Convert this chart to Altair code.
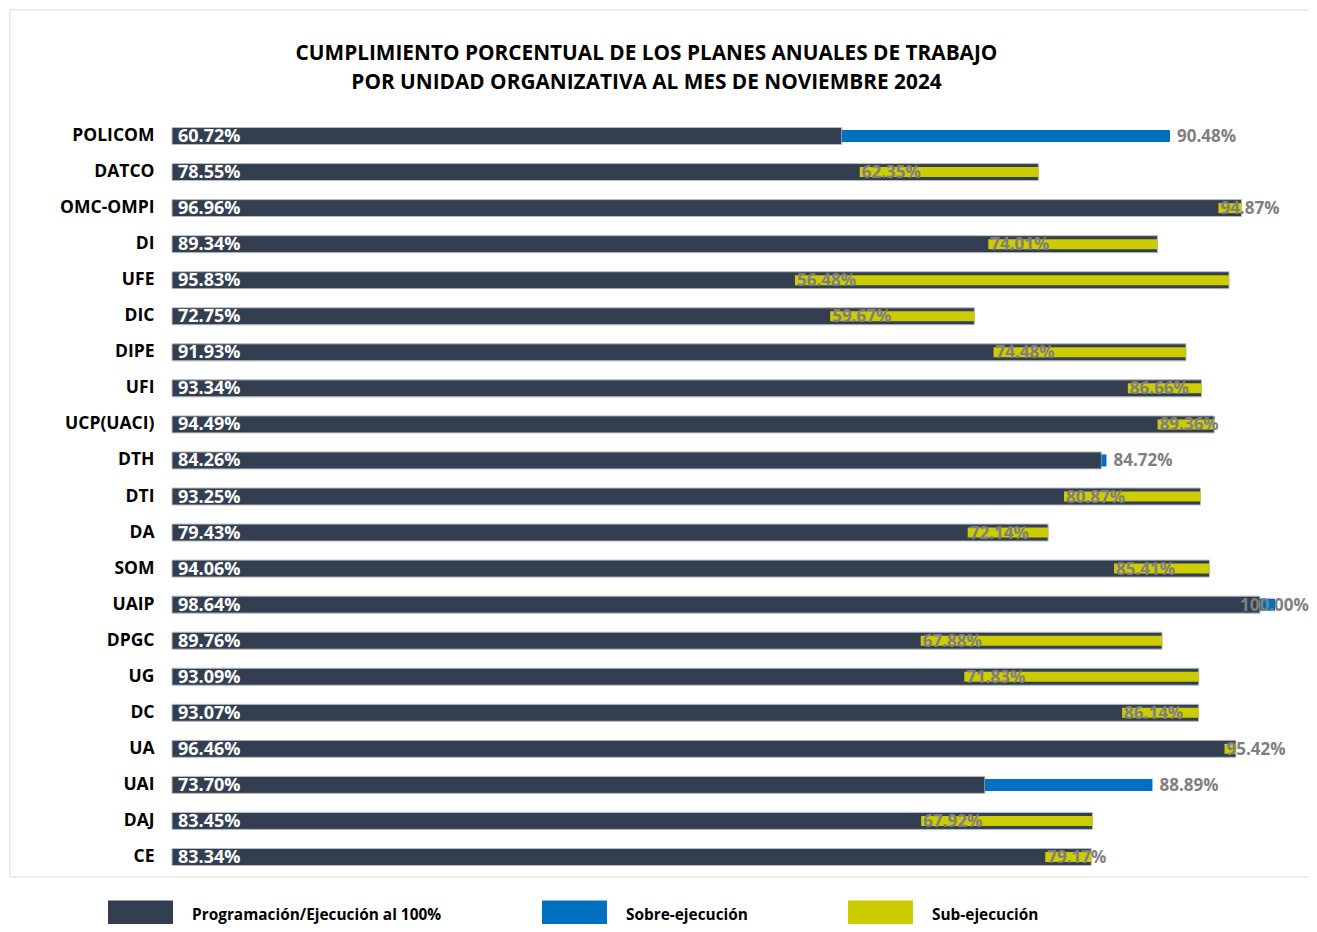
import altair as alt
import pandas as pd

unidades = ["POLICOM", "DATCO", "OMC-OMPI", "DI", "UFE", "DIC", "DIPE", "UFI",
            "UCP(UACI)", "DTH", "DTI", "DA", "SOM", "UAIP", "DPGC", "UG", "DC",
            "UA", "UAI", "DAJ", "CE"]
programado = [60.72, 78.55, 96.96, 89.34, 95.83, 72.75, 91.93, 93.34,
              94.49, 84.26, 93.25, 79.43, 94.06, 98.64, 89.76, 93.09, 93.07,
              96.46, 73.70, 83.45, 83.34]
ejecutado = [90.48, 62.35, 94.87, 74.01, 56.48, 59.67, 74.48, 86.66,
             89.36, 84.72, 80.87, 72.14, 85.41, 100.00, 67.88, 71.83, 86.14,
             95.42, 88.89, 67.92, 79.17]
SOBRE = "Sobre-ejecución"
SUB = "Sub-ejecución"
PROG = "Programación/Ejecución al 100%"
tipo = [SOBRE if e > p else SUB for p, e in zip(programado, ejecutado)]

series = [PROG, SOBRE, SUB]
colores = ["#333F50", "#0070C0", "#CCCC00"]

df = pd.DataFrame({"unidad": unidades, "prog": programado,
                   "ejec": ejecutado, "tipo": tipo})

FONT = "Open Sans"
xs = alt.Scale(domain=[0, 100], nice=False, zero=True)
cs = alt.Scale(domain=series, range=colores)

legend = alt.Legend(
    title=None, orient="none", legendX=-64, legendY=764, direction="horizontal",
    symbolType="M-1,-0.43H1V0.43H-1Z", symbolSize=4225, symbolStrokeWidth=0,
    symbolOpacity=1, labelFont=FONT, labelFontWeight="bold", labelFontSize=15.4,
    labelColor="#000000", labelOffset=19, columnPadding=100, gridAlign="none",
    labelLimit=400,
)

yenc = alt.Y("unidad:N", sort=unidades, title=None,
             axis=alt.Axis(ticks=False, domain=False, grid=False,
                           labelFont=FONT, labelFontWeight="bold",
                           labelFontSize=17.5, labelColor="#000000",
                           labelPadding=18))

base = alt.Chart(df).encode(y=yenc)

dark = base.mark_bar(size=17, stroke="#B8BDC6", strokeWidth=1).transform_calculate(
    serie="'" + PROG + "'"
).encode(
    x=alt.X("prog:Q", scale=xs, axis=None),
    color=alt.Color("serie:N", scale=cs, legend=legend),
)

blue = base.mark_bar(size=12).transform_filter(
    alt.datum.tipo == SOBRE
).encode(
    x=alt.X("prog:Q", scale=xs, axis=None), x2="ejec:Q",
    color=alt.Color("tipo:N", scale=cs, legend=legend),
)

yellow = base.mark_bar(size=10).transform_filter(
    alt.datum.tipo == SUB
).encode(
    x=alt.X("ejec:Q", scale=xs, axis=None), x2="prog:Q",
    color=alt.Color("tipo:N", scale=cs, legend=legend),
)

white_txt = base.mark_text(align="left", baseline="middle", dx=6, dy=1,
                           color="white", font=FONT, fontWeight="bold",
                           fontSize=18).transform_calculate(
    cero="0", lab="format(datum.prog, '.2f') + '%'"
).encode(x=alt.X("cero:Q", scale=xs, axis=None), text="lab:N")

gray_sobre = base.mark_text(align="left", baseline="middle", dx=7, dy=1,
                            color="#7F7F7F", font=FONT, fontWeight="bold",
                            fontSize=17).transform_filter(
    alt.datum.tipo == SOBRE
).transform_calculate(
    lx="min(datum.ejec, 96.2)", lab="format(datum.ejec, '.2f') + '%'"
).encode(x=alt.X("lx:Q", scale=xs, axis=None), text="lab:N")

gray_sub = base.mark_text(align="left", baseline="middle", dx=2, dy=1,
                          color="#7F7F7F", font=FONT, fontWeight="bold",
                          fontSize=17).transform_filter(
    alt.datum.tipo == SUB
).transform_calculate(
    lab="format(datum.ejec, '.2f') + '%'"
).encode(x=alt.X("ejec:Q", scale=xs, axis=None), text="lab:N")

one = pd.DataFrame({"k": [0]})
frame_col = "#D9D9D9"
top_line = alt.Chart(one).mark_rule(color=frame_col, strokeWidth=1).encode(
    x=alt.value(-162), x2=alt.value(1137), y=alt.value(-108))
left_line = alt.Chart(one).mark_rule(color=frame_col, strokeWidth=1).encode(
    x=alt.value(-162), y=alt.value(-108), y2=alt.value(759))
bottom_line = alt.Chart(one).mark_rule(color=frame_col, strokeWidth=1).encode(
    x=alt.value(-162), x2=alt.value(1137), y=alt.value(759))

chart = alt.layer(
    top_line, left_line, bottom_line, dark, blue, yellow,
    white_txt, gray_sobre, gray_sub,
).resolve_scale(color="shared").properties(
    width=1103, height=757,
    autosize=alt.AutoSizeParams(type="none"),
    padding={"left": 164, "top": 110, "right": 34, "bottom": 49},
    title=alt.TitleParams(
        ["CUMPLIMIENTO PORCENTUAL DE LOS PLANES ANUALES DE TRABAJO",
         "POR UNIDAD ORGANIZATIVA AL MES DE NOVIEMBRE 2024"],
        font=FONT, fontSize=20.8, fontWeight="bold", color="#000000",
        anchor="middle", dx=-77, offset=-84, lineHeight=29,
    ),
).configure_view(stroke=None)

chart.save("out.html", embed_options={"renderer": "svg", "actions": False})
